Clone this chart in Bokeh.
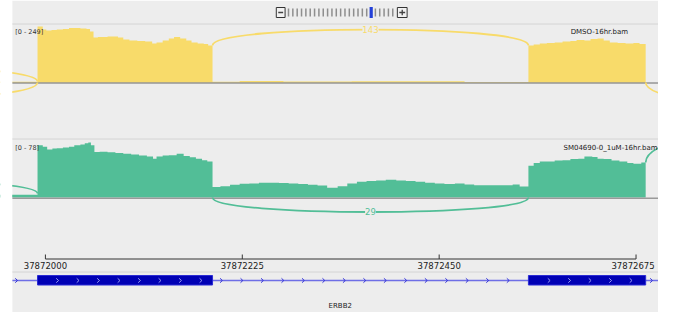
import numpy as np
from bokeh.plotting import figure
from bokeh.models import Range1d
from bokeh.core.properties import value
from bokeh.embed import file_html
from bokeh.resources import INLINE

# ---------------- data ----------------
ORIGIN = 37872000
tick_positions = [37872000, 37872225, 37872450, 37872675]
tick_labels = ["37872000", "37872225", "37872450", "37872675"]

gene_name = "ERBB2"
exon_starts = [37871991, 37872552]
exon_ends = [37872191, 37872686]

# track 1 : DMSO
dmso_name = "DMSO-16hr.bam"
dmso_range = 249
dmso_edges = [-60, -9, -3, 1, 7, 13, 20, 27, 33, 40, 47, 51, 55, 60, 71, 83, 89, 96, 105,
              114, 122, 127, 134, 141, 147, 154, 161, 167, 174, 181, 186, 191, 222, 272,
              350, 479, 552, 558, 565, 573, 582, 591, 600, 607, 616, 623, 631, 638, 645,
              654, 663, 672, 679, 686]
dmso_cov = [3, 249, 236, 231, 233, 236, 238, 242, 242, 240, 238, 227, 200, 202, 205, 200,
            191, 187, 185, 182, 173, 178, 187, 196, 202, 196, 187, 178, 173, 171, 165,
            3, 7, 5, 6, 2,
            165, 169, 173, 176, 178, 182, 185, 189, 187, 193, 196, 187, 178, 176, 173, 176, 171]
dmso_junction = {"start": 37872191, "end": 37872552, "count": 143}

# track 2 : SM04690
sm_name = "SM04690-0_1uM-16hr.bam"
sm_range = 78
sm_edges = [-60, -9, -3, 2, 8, 13, 20, 27, 33, 40, 45, 49, 52, 56, 62, 71, 80, 89, 98, 107,
            116, 123, 127, 134, 141, 150, 158, 165, 172, 179, 185, 191,
            200, 211, 222, 233, 244, 255, 267, 278, 289, 300, 311, 322, 334, 345, 356, 367,
            378, 389, 401, 412, 423, 434, 445, 456, 468, 479, 490, 501, 512, 523, 534, 542,
            552, 558, 565, 573, 582, 591, 600, 609, 616, 625, 631, 638, 647, 656, 665, 672,
            681, 686]
sm_cov = [4, 74, 72, 68, 69.5, 70, 71, 72, 74, 75, 77, 78, 74, 64.5, 65, 64, 63, 62, 61,
          59.5, 58, 55, 58, 59.5, 60, 62, 59, 57, 55, 53, 51,
          15, 16, 18, 19.5, 20, 21, 21, 20.5, 20, 19, 18, 17, 14, 16, 20, 22.5, 23.5, 24,
          25, 24, 23.5, 22.5, 21, 20, 19, 20, 18.5, 17.5, 17.5, 17.5, 17.5, 18.5, 15.5,
          45, 49, 51, 51, 52.5, 53, 54.5, 55, 58, 57.5, 55, 54.5, 52.5, 51, 49, 48, 49.5]
sm_junction = {"start": 37872191, "end": 37872552, "count": 29}

# ---------------- layout constants (reference-pixel space) ----------------
W, H = 658, 312            # figure size
VIEW_W, VIEW_H = 674, 312  # reference pixel span shown by the figure
PX0, BP_PER_PX = 46, 675 / 605        # pixel of ORIGIN, bp per pixel
BASE1, SPAN1 = 82, 56                 # track 1 baseline pixel, full-scale pixels
BASE2, SPAN2 = 197, 55
BG = "#EDEDED"
YELLOW = "#F8DB6A"
GREEN = "#52BE97"
FONT = value("DejaVu Sans")


def g_at(px):
    return ORIGIN + (px - PX0) * BP_PER_PX


p = figure(width=W, height=H, output_backend="svg", toolbar_location=None,
           x_range=Range1d(g_at(0), g_at(VIEW_W)),
           y_range=Range1d(VIEW_H, 0),
           x_axis_type=None, y_axis_type=None, min_border=0)
p.outline_line_color = None
p.background_fill_color = "white"
p.border_fill_color = "white"
p.xgrid.visible = False
p.ygrid.visible = False
p.extra_x_ranges = {"px": Range1d(0, VIEW_W)}
p.extra_y_ranges = {
    "t1": Range1d((BASE1 - VIEW_H) * dmso_range / SPAN1, BASE1 * dmso_range / SPAN1),
    "t2": Range1d((BASE2 - VIEW_H) * sm_range / SPAN2, BASE2 * sm_range / SPAN2),
}

# panel background and separators
p.quad(left=12, right=VIEW_W, top=0, bottom=VIEW_H, x_range_name="px",
       fill_color=BG, line_color=None)
p.segment(x0=12, x1=VIEW_W, y0=[23.5, 138.5, 271.5], y1=[23.5, 138.5, 271.5],
          x_range_name="px", line_color="#D4D4D4", line_width=1)

# ---- zoom widget at the top ----
n_slots, current = 25, 19
slot_x = 295 + 4.45 * np.arange(n_slots)
grey_x = [x for i, x in enumerate(slot_x) if i != current]
p.segment(x0=grey_x, x1=grey_x, y0=8, y1=16, x_range_name="px",
          line_color="#8E8E8E", line_width=1.5)
p.quad(left=slot_x[current] - 1.5, right=slot_x[current] + 1.8, top=6.5, bottom=17.5,
       x_range_name="px", fill_color="#2340D8", line_color=None)
p.quad(left=[282.5, 406.5], right=[291.5, 416.5], top=7, bottom=17, x_range_name="px",
       fill_color="#F2F2F2", line_color="#333333", line_width=1)
p.segment(x0=[284.5, 408.5, 411.5], x1=[289.5, 414.5, 411.5],
          y0=[12, 12, 9.3], y1=[12, 12, 14.8], x_range_name="px",
          line_color="#444444", line_width=1.3)


def coverage(edges, cov, color, rng):
    xs = [ORIGIN + e for e in edges]
    top = list(cov) + [cov[-1]]
    p.varea_step(x=xs, y1=[0] * len(xs), y2=top, step_mode="after",
                 fill_color=color, y_range_name=rng)


def arc(x0, x1, base, ctrl, color, rng, width=1.8):
    p.bezier(x0=[x0], y0=[base], x1=[x1], y1=[base], cx0=[x0], cy0=[ctrl],
             cx1=[x1], cy1=[ctrl], line_color=color, line_width=width, y_range_name=rng)


# ---- track 1 ----
coverage(dmso_edges, dmso_cov, YELLOW, "t1")
p.segment(x0=12, x1=VIEW_W, y0=BASE1 + 0.5, y1=BASE1 + 0.5, x_range_name="px",
          line_color="#6A6A6A", line_width=1)
j = dmso_junction
a_base, a_ctrl = dmso_cov[30], 259
arc(j["start"], j["end"], a_base, a_ctrl, YELLOW, "t1")
p.text(x=[(j["start"] + j["end"]) / 2], y=[0.25 * a_base + 0.75 * a_ctrl],
       text=[str(j["count"])], y_range_name="t1", text_align="center",
       text_baseline="middle", text_font=FONT, text_font_size="8.5px",
       text_color=YELLOW, background_fill_color=BG)
arc(ORIGIN - 400, exon_starts[0], 4, 97, YELLOW, "t1")
arc(ORIGIN - 400, exon_starts[0], 0, -102, YELLOW, "t1")
arc(exon_ends[1], ORIGIN + 1100, 0, -151, YELLOW, "t1")

# ---- track 2 ----
coverage(sm_edges, sm_cov, GREEN, "t2")
p.segment(x0=12, x1=VIEW_W, y0=BASE2 + 0.8, y1=BASE2 + 0.8, x_range_name="px",
          line_color="#9A9A9A", line_width=1.6)
j = sm_junction
b_base, b_ctrl = 0, -27.4
arc(j["start"], j["end"], b_base, b_ctrl, GREEN, "t2")
p.text(x=[(j["start"] + j["end"]) / 2], y=[0.25 * b_base + 0.75 * b_ctrl],
       text=[str(j["count"])], y_range_name="t2", text_align="center",
       text_baseline="middle", text_font=FONT, text_font_size="8.5px",
       text_color=GREEN, background_fill_color=BG)
arc(ORIGIN - 400, exon_starts[0], 5.7, 32, GREEN, "t2")
arc(exon_ends[1], ORIGIN + 1100, sm_cov[-1], 118, GREEN, "t2")

# ---- ruler ----
p.segment(x0=tick_positions[0], x1=tick_positions[-1], y0=258.5, y1=258.5,
          line_color="#333333", line_width=1)
p.segment(x0=tick_positions, x1=tick_positions, y0=[254] * 4, y1=[258.5] * 4,
          line_color="#333333", line_width=1)
p.text(x=tick_positions[:-1], y=[264.5] * 3, text=tick_labels[:-1], text_align="center",
       text_baseline="middle", text_font=FONT, text_font_size="8.5px", text_color="#222222")
p.text(x=tick_positions[-1:], y=[264.5], text=tick_labels[-1:], text_align="center",
       x_offset=-3, text_baseline="middle", text_font=FONT, text_font_size="8.5px",
       text_color="#222222")

# ---- gene track ----
p.segment(x0=12, x1=VIEW_W, y0=280, y1=280, x_range_name="px",
          line_color="#6E6EE6", line_width=1.5)
p.quad(left=exon_starts, right=exon_ends, top=275, bottom=284.5,
       fill_color="#0000B4", line_color="#2B2BD6", line_width=1)
chev_px = 16.3 + 20.98 * np.arange(32)
xs, ys, cols = [], [], []
for cx in chev_px:
    g = g_at(cx)
    inside = any(s <= g <= e for s, e in zip(exon_starts, exon_ends))
    near = any(abs(g - b) < 3 * BP_PER_PX for b in exon_starts + exon_ends)
    if near or cx > VIEW_W - 2:
        continue
    xs.append([cx - 1.2, cx + 1.2, cx - 1.2])
    ys.append([277.8, 280, 282.2])
    cols.append("#9A9AF0" if inside else "#3434D8")
p.multi_line(xs=xs, ys=ys, line_color=cols, line_width=1, x_range_name="px")

# track labels
p.text(x=[15, 15], y=[31.5, 147.5], text=[f"[0 - {dmso_range}]", f"[0 - {sm_range}]"],
       x_range_name="px", text_baseline="middle", text_font=FONT,
       text_font_size="6.5px", text_color="#333333")
p.text(x=[584], y=[31.5], text=[dmso_name], x_range_name="px",
       text_baseline="middle", text_font=FONT, text_font_size="7px",
       text_color="#222222")
p.text(x=[VIEW_W - 1], y=[147.5], text=[sm_name], x_range_name="px",
       text_align="right", text_baseline="middle", text_font=FONT,
       text_font_size="7px", text_color="#222222")
p.text(x=[348], y=[305], x_range_name="px",
       text=[gene_name], text_align="center", text_baseline="middle", text_font=FONT,
       text_font_size="7px", text_color="#222222")

# white margin strip on the left (covers arcs / coverage running off-screen), drawn last
p.quad(left=-40, right=12, top=-10, bottom=VIEW_H + 10, x_range_name="px",
       fill_color="white", line_color=None)

open("out.html", "w").write(file_html(p, INLINE))
